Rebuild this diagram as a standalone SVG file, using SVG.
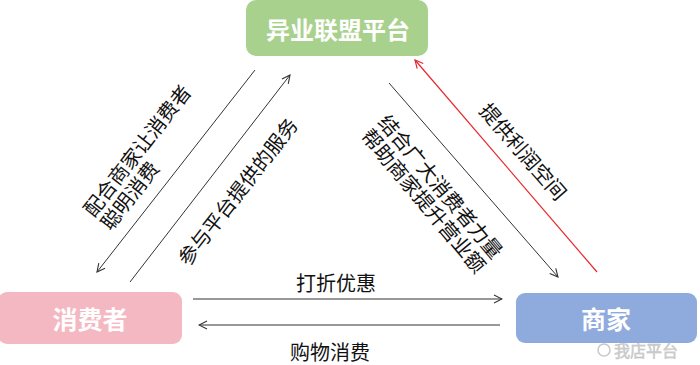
<svg xmlns="http://www.w3.org/2000/svg" width="700" height="365" viewBox="0 0 700 365">
<defs>
<style>
.node-t{font-family:"Noto Sans CJK SC","Liberation Sans",sans-serif;font-size:25px;font-weight:bold;fill:#fff;text-anchor:middle;dominant-baseline:central}
.lbl{font-family:"Noto Sans CJK SC","Liberation Sans",sans-serif;font-size:20px;fill:#111;dominant-baseline:central}
.ln{stroke:#333;stroke-width:1;fill:none}
.red{stroke:#e8262b;stroke-width:1.2;fill:none}
</style>
<marker id="ah" viewBox="0 0 10 10" refX="9" refY="5" markerWidth="10" markerHeight="10" markerUnits="userSpaceOnUse" orient="auto">
<path d="M1,1 L9,5 L1,9" fill="none" stroke="#333" stroke-width="1.1"/>
</marker>
<marker id="ahr" viewBox="0 0 10 10" refX="9" refY="5" markerWidth="10" markerHeight="10" markerUnits="userSpaceOnUse" orient="auto">
<path d="M1,1 L9,5 L1,9" fill="none" stroke="#e8262b" stroke-width="1.2"/>
</marker>
</defs>
<rect width="700" height="365" fill="#fff"/>
<g id="platform">
<rect x="246" y="0" width="182" height="56" rx="10" fill="#a9d18e"/>
<text class="node-t" x="338" y="28" style="font-size:24px">异业联盟平台</text>
</g>
<g id="consumer">
<rect x="-2" y="292" width="184" height="52" rx="9" fill="#f4b8c2"/>
<text class="node-t" x="90" y="318">消费者</text>
</g>
<g id="merchant">
<rect x="516" y="293" width="181" height="50" rx="9" fill="#8faadc"/>
<text class="node-t" x="606" y="318">商家</text>
</g>
<g id="connectors">
<line class="ln" x1="255" y1="70" x2="97" y2="272" marker-end="url(#ah)"/>
<line class="ln" x1="130" y1="282" x2="290" y2="75" marker-end="url(#ah)"/>
<line class="ln" x1="389" y1="83" x2="558" y2="277" marker-end="url(#ah)"/>
<line class="red" x1="597" y1="272" x2="415" y2="60" marker-end="url(#ahr)"/>
<line class="ln" x1="193" y1="299" x2="502" y2="299" marker-end="url(#ah)"/>
<line class="ln" x1="500" y1="325" x2="199" y2="325" marker-end="url(#ah)"/>
</g>
<g id="labels">
<g transform="translate(87,213) rotate(-52)">
<text class="lbl" x="0" y="0">配合商家让消费者</text>
<text class="lbl" x="0" y="22">聪明消费</text>
</g>
<text class="lbl" text-anchor="middle" transform="translate(237,191) rotate(-52)">参与平台提供的服务</text>
<g transform="translate(433,193) rotate(50)">
<text class="lbl" text-anchor="middle" x="0" y="-11">结合广大消费者力量</text>
<text class="lbl" text-anchor="middle" x="0" y="11">帮助商家提升营业额</text>
</g>
<text class="lbl" text-anchor="middle" transform="translate(524,151) rotate(49)">提供利润空间</text>
<text class="lbl" text-anchor="middle" x="336" y="282">打折优惠</text>
<text class="lbl" text-anchor="middle" x="330" y="351">购物消费</text>
</g>
<g id="watermark">
<circle cx="604" cy="350" r="6" fill="none" stroke="#c8c8c8" stroke-width="1.5"/>
<text x="614" y="350" style="font-family:'Noto Sans CJK SC',sans-serif;font-size:16px;fill:#d0d0d0;dominant-baseline:central;stroke:#bbb;stroke-width:0.4">我店平台</text>
</g>
</svg>
